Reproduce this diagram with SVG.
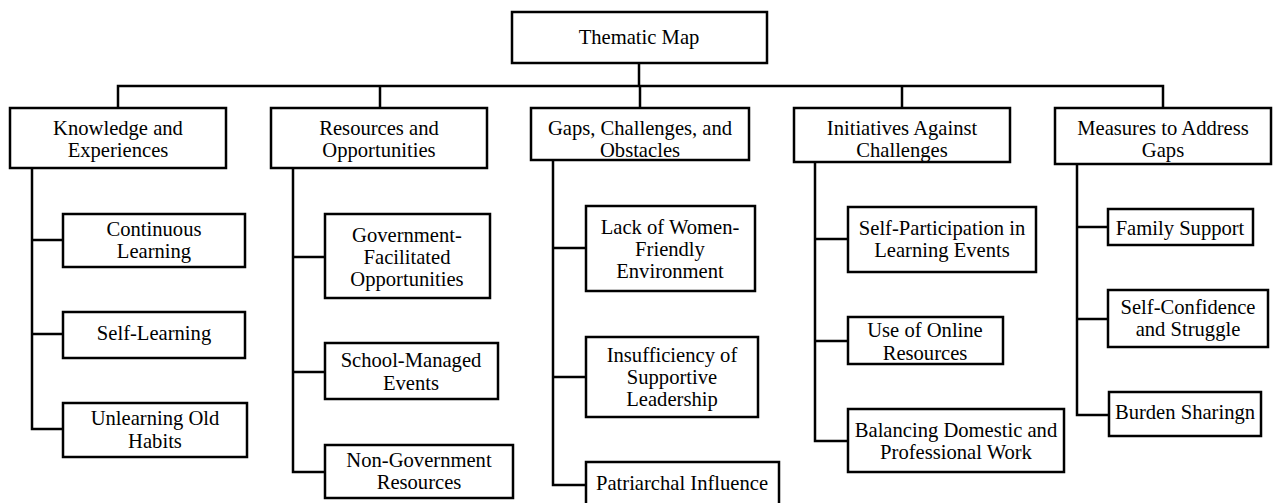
<svg xmlns="http://www.w3.org/2000/svg" width="1277" height="503" viewBox="0 0 1277 503">
<style>
.b{fill:#fff;stroke:#000;stroke-width:2.5}
.c{fill:none;stroke:#000;stroke-width:2.5;stroke-linecap:square}
.t{font-size:20.6px;fill:#000;text-anchor:middle}
</style>
<rect width="1277" height="503" fill="#fff"/>
<g id="connectors">
<path class="c" d="M639,63V86M118,86H1163M118,86V108M380,86V108M640,86V108M902,86V108M1163,86V108"/>
<path class="c" d="M32,168V429M32,240H63M32,334H63M32,429H63"/>
<path class="c" d="M293,168V472M293,257H325M293,372H325M293,472H325"/>
<path class="c" d="M553,160V485M553,248H586M553,377H586M553,485H586"/>
<path class="c" d="M815,162V441M815,239H848M815,341H848M815,441H848"/>
<path class="c" d="M1077,164V415M1077,227H1108M1077,319H1108M1077,415H1108"/>
</g>
<g class="t" font-family="Liberation Serif, Tinos, Times New Roman, serif">
<g id="root"><rect class="b" x="512" y="12" width="255" height="51"/><text x="639" y="44">Thematic Map</text></g>
<g id="k1"><rect class="b" x="10" y="108" width="216" height="60"/><text x="118" y="135">Knowledge and</text><text x="118" y="157">Experiences</text></g>
<g id="k2"><rect class="b" x="271" y="108" width="216" height="60"/><text x="379" y="135">Resources and</text><text x="379" y="157">Opportunities</text></g>
<g id="k3"><rect class="b" x="531" y="108" width="218" height="52"/><text x="640" y="135">Gaps, Challenges, and</text><text x="640" y="157">Obstacles</text></g>
<g id="k4"><rect class="b" x="794" y="108" width="216" height="54"/><text x="902" y="135">Initiatives Against</text><text x="902" y="157">Challenges</text></g>
<g id="k5"><rect class="b" x="1055" y="108" width="216" height="56"/><text x="1163" y="135">Measures to Address</text><text x="1163" y="157">Gaps</text></g>
<g id="n11"><rect class="b" x="63" y="214" width="182" height="53"/><text x="154" y="236">Continuous</text><text x="154" y="258">Learning</text></g>
<g id="n12"><rect class="b" x="63" y="312" width="182" height="46"/><text x="154" y="340">Self-Learning</text></g>
<g id="n13"><rect class="b" x="63" y="403" width="184" height="54"/><text x="155" y="425">Unlearning Old</text><text x="155" y="448">Habits</text></g>
<g id="n21"><rect class="b" x="325" y="214" width="165" height="84"/><text x="407" y="242">Government-</text><text x="407" y="264">Facilitated</text><text x="407" y="286">Opportunities</text></g>
<g id="n22"><rect class="b" x="325" y="343" width="173" height="56"/><text x="411" y="367">School-Managed</text><text x="411" y="390">Events</text></g>
<g id="n23"><rect class="b" x="325" y="445" width="188" height="53"/><text x="419" y="467">Non-Government</text><text x="419" y="489">Resources</text></g>
<g id="n31"><rect class="b" x="586" y="206" width="169" height="85"/><text x="670" y="234">Lack of Women-</text><text x="670" y="256">Friendly</text><text x="670" y="278">Environment</text></g>
<g id="n32"><rect class="b" x="586" y="337" width="172" height="80"/><text x="672" y="362">Insufficiency of</text><text x="672" y="384">Supportive</text><text x="672" y="406">Leadership</text></g>
<g id="n33"><rect class="b" x="586" y="462" width="193" height="50"/><text x="682" y="490">Patriarchal Influence</text></g>
<g id="n41"><rect class="b" x="848" y="207" width="188" height="65"/><text x="942" y="235">Self-Participation in</text><text x="942" y="257">Learning Events</text></g>
<g id="n42"><rect class="b" x="848" y="317" width="155" height="47"/><text x="925" y="337">Use of Online</text><text x="925" y="360">Resources</text></g>
<g id="n43"><rect class="b" x="848" y="409" width="216" height="63"/><text x="956" y="437">Balancing Domestic and</text><text x="956" y="459">Professional Work</text></g>
<g id="n51"><rect class="b" x="1108" y="209" width="145" height="36"/><text x="1180" y="235">Family Support</text></g>
<g id="n52"><rect class="b" x="1108" y="290" width="160" height="57"/><text x="1188" y="314">Self-Confidence</text><text x="1188" y="336">and Struggle</text></g>
<g id="n53"><rect class="b" x="1109" y="392" width="152" height="44"/><text x="1185" y="419">Burden Sharingn</text></g>
</g>
</svg>
